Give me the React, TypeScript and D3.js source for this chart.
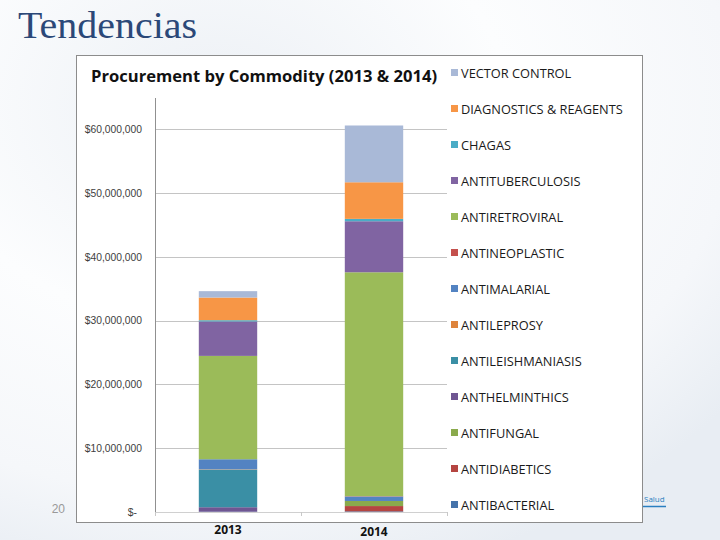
import { useRef, useEffect } from 'react'
import * as d3 from 'd3'

const years = ['2013', '2014']

// stacking order, bottom to top
const commodities = [
  'ANTIBACTERIAL',
  'ANTIDIABETICS',
  'ANTIFUNGAL',
  'ANTHELMINTHICS',
  'ANTILEISHMANIASIS',
  'ANTILEPROSY',
  'ANTIMALARIAL',
  'ANTINEOPLASTIC',
  'ANTIRETROVIRAL',
  'ANTITUBERCULOSIS',
  'CHAGAS',
  'DIAGNOSTICS & REAGENTS',
  'VECTOR CONTROL',
]

const colors = [
  '#4573aa',
  '#b54541',
  '#8aaa4c',
  '#6f5692',
  '#3a8fa5',
  '#de843c',
  '#5383c2',
  '#c4504d',
  '#9bbb59',
  '#8064a2',
  '#4bacc6',
  '#f79646',
  '#a9b9d7',
]

// values in US$ millions, same order as commodities
const values2013 = [0.05, 0, 0, 0.7, 5.9, 0.05, 1.57, 0, 16.2, 5.4, 0.2, 3.55, 1.0]
const values2014 = [0.1, 0.83, 0.8, 0, 0, 0, 0.7, 0.05, 35.1, 8.0, 0.37, 5.74, 8.9]

const yTicks = [0, 10, 20, 30, 40, 50, 60]

export default function App() {
  const svgRef = useRef<SVGSVGElement>(null)

  useEffect(() => {
    if (!svgRef.current) return
    const svg = d3.select(svgRef.current)
    svg.selectAll('*').remove()

    const W = 720
    const H = 540
    svg.attr('width', W).attr('height', H)

    // slide background
    const defs = svg.append('defs')
    const bg = defs
      .append('radialGradient')
      .attr('id', 'slide-bg')
      .attr('cx', '30%')
      .attr('cy', '20%')
      .attr('r', '90%')
    bg.append('stop').attr('offset', '0%').attr('stop-color', '#ecf0f5')
    bg.append('stop').attr('offset', '45%').attr('stop-color', '#fcfdfe')
    bg.append('stop').attr('offset', '80%').attr('stop-color', '#f5f7fa')
    bg.append('stop').attr('offset', '100%').attr('stop-color', '#e8edf3')
    svg.append('rect').attr('width', W).attr('height', H).attr('fill', 'url(#slide-bg)')

    svg
      .append('text')
      .attr('x', 18)
      .attr('y', 38)
      .attr('font-family', '"Liberation Serif", "DejaVu Serif", serif')
      .attr('font-size', 37)
      .attr('fill', '#2b4878')
      .attr('textLength', 179)
      .attr('lengthAdjust', 'spacingAndGlyphs')
      .text('Tendencias')

    svg
      .append('text')
      .attr('x', 65)
      .attr('y', 513)
      .attr('text-anchor', 'end')
      .attr('font-family', '"Liberation Sans", sans-serif')
      .attr('font-size', 12)
      .attr('fill', '#999')
      .text('20')

    svg
      .append('text')
      .attr('x', 644)
      .attr('y', 502)
      .attr('font-family', '"Open Sans", sans-serif')
      .attr('font-size', 8)
      .attr('fill', '#2a7fc0')
      .text('Salud')
    svg
      .append('line')
      .attr('x1', 643).attr('x2', 666)
      .attr('y1', 506.5).attr('y2', 506.5)
      .attr('stroke', '#2a7fc0')
      .attr('stroke-width', 1.5)

    // chart frame
    svg
      .append('rect')
      .attr('x', 76.5)
      .attr('y', 55.5)
      .attr('width', 566)
      .attr('height', 467)
      .attr('fill', '#fff')
      .attr('stroke', '#8c8c8c')

    svg
      .append('text')
      .attr('x', 91)
      .attr('y', 82)
      .attr('font-family', '"Open Sans", "Liberation Sans", sans-serif')
      .attr('font-weight', 'bold')
      .attr('font-size', 16.5)
      .attr('fill', '#111')
      .attr('textLength', 346)
      .attr('lengthAdjust', 'spacingAndGlyphs')
      .text('Procurement by Commodity (2013 & 2014)')

    const left = 155
    const right = 447
    const top = 98
    const bottom = 512

    const x = d3.scaleBand().domain(years).range([left, right]).padding(0)
    const y = d3.scaleLinear().domain([0, 64.9]).range([bottom, top])
    const barW = x.bandwidth() * 0.4

    // gridlines
    svg
      .append('g')
      .selectAll('line')
      .data(yTicks)
      .join('line')
      .attr('x1', left)
      .attr('x2', right)
      .attr('y1', (d) => Math.round(y(d)) + 0.5)
      .attr('y2', (d) => Math.round(y(d)) + 0.5)
      .attr('stroke', (d) => (d === 0 ? '#d0d0d0' : '#c4c4c4'))

    // y axis
    const yAxis = svg
      .append('g')
      .attr('transform', `translate(${left - 13},0)`)
      .call(
        d3
          .axisLeft(y)
          .tickValues(yTicks)
          .tickSize(0)
          .tickPadding(0)
          .tickFormat((d) => (d === 0 ? '$-' : '$' + d3.format(',')((d as number) * 1e6))),
      )
    yAxis.select('.domain').remove()
    yAxis
      .selectAll('.tick text')
      .attr('fill', '#404040')
      .attr('font-family', '"Liberation Sans", sans-serif')
      .attr('font-size', 10.3)
      .attr('dx', (d) => (d === 0 ? -5 : 0))

    svg
      .append('line')
      .attr('x1', left + 0.5).attr('x2', left + 0.5)
      .attr('y1', top).attr('y2', bottom)
      .attr('stroke', '#909090')

    // category boundary ticks
    svg
      .append('g')
      .selectAll('line')
      .data([left, left + x.step(), right])
      .join('line')
      .attr('x1', (d) => d + 0.5)
      .attr('x2', (d) => d + 0.5)
      .attr('y1', bottom)
      .attr('y2', bottom + 4)
      .attr('stroke', '#c8c8c8')

    // stacked bars
    const rows = years.map((yr, i) => {
      const vals = i === 0 ? values2013 : values2014
      const row: Record<string, number | string> = { year: yr }
      commodities.forEach((c, j) => (row[c] = vals[j]))
      return row
    })
    const stack = d3.stack<Record<string, number | string>>().keys(commodities)
    const series = stack(rows)

    svg
      .append('g')
      .selectAll('g')
      .data(series)
      .join('g')
      .attr('fill', (_, i) => colors[i])
      .selectAll('rect')
      .data((s) => s)
      .join('rect')
      .attr('x', (d) => (x(d.data.year as string) as number) + x.bandwidth() / 2 - barW / 2)
      .attr('width', barW)
      .attr('y', (d) => y(d[1]))
      .attr('height', (d) => y(d[0]) - y(d[1]))

    // x labels
    svg
      .append('g')
      .selectAll('text')
      .data(years)
      .join('text')
      .attr('x', (d) => (x(d) as number) + x.bandwidth() / 2)
      .attr('y', (_, i) => 534 + i * 2)
      .attr('text-anchor', 'middle')
      .attr('font-family', '"Open Sans", "Liberation Sans", sans-serif')
      .attr('font-weight', 'bold')
      .attr('font-size', 12)
      .attr('fill', '#111')
      .text((d) => d)

    // legend, top item is the last series
    const legendItems = commodities.map((c, i) => ({ name: c, color: colors[i] })).reverse()
    const lg = svg
      .append('g')
      .selectAll('g')
      .data(legendItems)
      .join('g')
      .attr('transform', (_, i) => `translate(451,${73 + i * 36})`)
    lg.append('rect')
      .attr('x', 0)
      .attr('y', -4)
      .attr('width', 7)
      .attr('height', 7)
      .attr('fill', (d) => d.color)
    lg.append('text')
      .attr('x', 10)
      .attr('y', 4.5)
      .attr('font-family', '"Open Sans", "Liberation Sans", sans-serif')
      .attr('font-size', 12.8)
      .attr('fill', '#1a1a1a')
      .text((d) => d.name)
  }, [])

  return (
    <div style={{ position: 'absolute', left: 0, top: 0 }}>
      <svg ref={svgRef} style={{ display: 'block' }} />
    </div>
  )
}
